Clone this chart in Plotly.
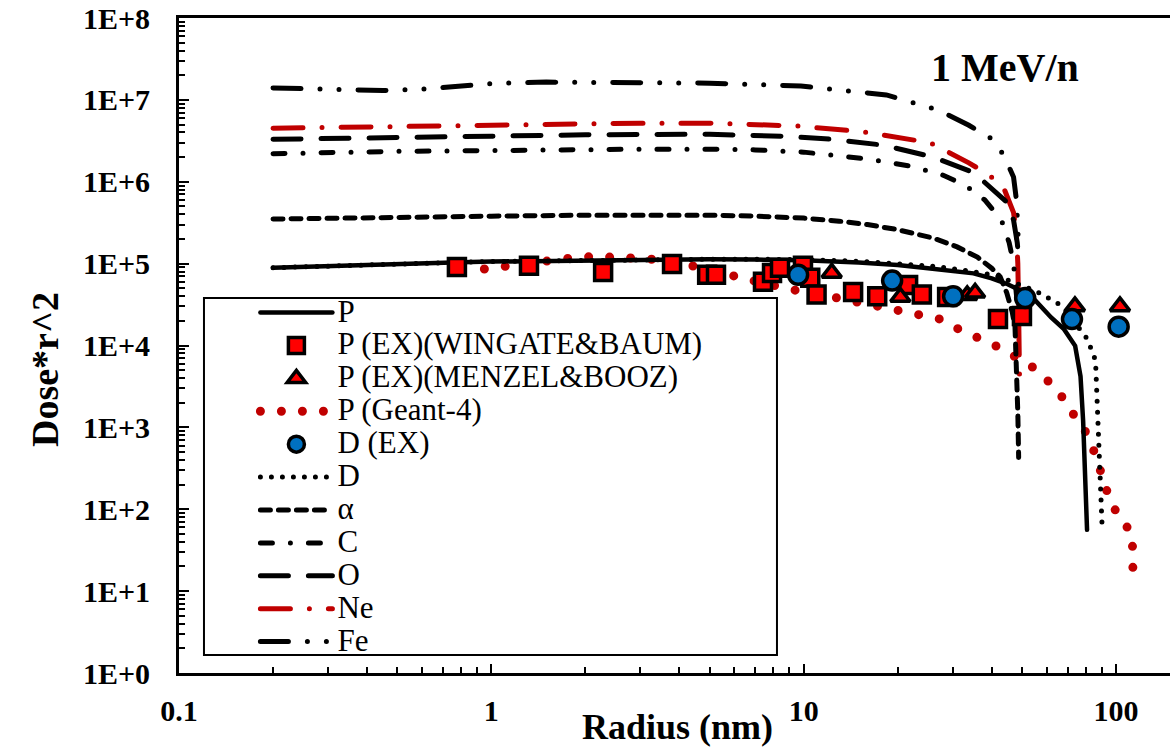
import plotly.graph_objects as go

# ---------------- data ----------------
p_r = [0.2, 0.3, 0.5, 0.8, 1.0, 2.0, 3.0, 5.0, 7.0, 10.0, 15.0, 20.0, 25.0, 30.0, 35.0, 40.0, 45.0, 50.0, 55.0, 62.0, 68.0, 74.0, 77.0, 78.5, 80.0, 80.8]
p_d = [8.9e4, 9.4e4, 1.0e5, 1.04e5, 1.06e5, 1.1e5, 1.12e5, 1.13e5, 1.12e5, 1.1e5, 1.03e5, 9.6e4, 8.8e4, 8.2e4, 7.6e4, 6.6e4, 5.6e4, 4.6e4, 3.6e4, 2.2e4, 1.6e4, 9.9e3, 4.2e3, 1.2e3, 2.5e2, 5.6e1]

d_r = [0.2, 0.3, 0.5, 0.8, 1, 2, 3, 5, 7, 10, 15, 20, 25, 30, 35, 40, 45, 50, 55, 60, 65, 70, 75, 81, 86, 87.5, 89, 90.2]
d_d = [8.9e4, 9.4e4, 1.0e5, 1.04e5, 1.06e5, 1.1e5, 1.12e5, 1.13e5, 1.13e5, 1.12e5, 1.07e5, 1.0e5, 9.4e4, 8.7e4, 8.0e4, 7.3e4, 6.3e4, 5.4e4, 4.7e4, 3.9e4, 3.3e4, 2.5e4, 1.8e4, 1.2e4, 6.6e3, 1.2e3, 2.5e2, 6.7e1]

a_r = [0.2, 0.3, 0.5, 1, 2, 3, 5, 7, 10, 13, 16, 20, 26, 31, 36, 40, 42.6, 44.7, 46.5, 47.5, 48.1, 48.5, 48.8]
a_d = [3.5e5, 3.6e5, 3.7e5, 3.8e5, 3.9e5, 3.95e5, 3.9e5, 3.8e5, 3.6e5, 3.3e5, 3.0e5, 2.6e5, 2.05e5, 1.6e5, 1.2e5, 8.8e4, 6.9e4, 4.4e4, 2.6e4, 1.7e4, 5e3, 1.5e3, 4.3e2]

c_r = [0.2, 0.3, 0.5, 1, 2, 3, 5, 7, 10, 16, 22, 28, 33, 38, 43, 45.5, 47, 48, 48.6]
c_d = [2.2e6, 2.3e6, 2.35e6, 2.4e6, 2.5e6, 2.5e6, 2.5e6, 2.45e6, 2.3e6, 1.9e6, 1.55e6, 1.2e6, 9e5, 6e5, 3.4e5, 1.8e5, 1.0e5, 5e4, 2.5e4]

o_r = [0.2, 0.3, 0.5, 1, 2, 3, 5, 8.6, 12.3, 18, 26, 35, 40.8, 45, 47, 48.3, 49]
o_d = [3.3e6, 3.4e6, 3.5e6, 3.6e6, 3.75e6, 3.8e6, 3.8e6, 3.6e6, 3.3e6, 2.8e6, 2.0e6, 1.3e6, 7.9e5, 5.5e5, 3.4e5, 1.8e5, 1.0e5]

ne_r = [0.2, 0.3, 0.5, 1, 2, 3, 5, 9.5, 15.3, 25.4, 33.8, 39.4, 44, 47, 48, 48.5, 48.8, 49.1]
ne_d = [4.5e6, 4.6e6, 4.8e6, 4.9e6, 5.1e6, 5.2e6, 5.2e6, 4.8e6, 4.1e6, 3.0e6, 1.7e6, 1.2e6, 7.9e5, 4.2e5, 2.3e5, 1.0e5, 2.5e4, 4.4e3]

fe_r = [0.2, 0.3, 0.45, 0.6, 0.8, 1.0, 1.5, 3, 5, 9.8, 18.4, 27, 33.8, 40.8, 44, 47, 48, 48.4, 48.8]
fe_d = [1.4e7, 1.35e7, 1.3e7, 1.35e7, 1.5e7, 1.58e7, 1.65e7, 1.65e7, 1.6e7, 1.48e7, 1.15e7, 7.5e6, 4.9e6, 3.2e6, 2.0e6, 1.14e6, 6e5, 3.1e5, 1.5e5]

g_r = [0.95, 1.15, 1.35, 1.6, 1.9, 2.2, 2.6, 3.1, 3.7, 4.4, 5.2, 6.2, 7.5, 9.2, 11, 12.6, 14.8, 17.2, 20.1, 23.4, 27.4, 31.2, 36.2, 41.9, 47.5, 54.7, 61.5, 68.2, 74, 80.8, 85.7, 90.2, 94.4, 100.8, 107, 112.7, 113.0, 113.3]
g_d = [8.6e4, 9.5e4, 1.05e5, 1.15e5, 1.2e5, 1.22e5, 1.2e5, 1.15e5, 1.08e5, 9.5e4, 8.2e4, 6.8e4, 5.7e4, 4.8e4, 4.3e4, 3.9e4, 3.4e4, 3.1e4, 2.7e4, 2.5e4, 2.1e4, 1.6e4, 1.27e4, 9.6e3, 7.3e3, 5.3e3, 3.5e3, 2.2e3, 1.34e3, 830, 475, 263, 150, 88, 65, 50, 33, 18]

wb_r = [0.776, 1.32, 2.28, 3.79, 4.91, 5.24, 7.41, 7.92, 8.40, 9.95, 10.5, 11.0, 14.4, 17.2, 21.6, 23.9, 28.8, 41.9, 50.0]
wb_d = [9.1e4, 9.4e4, 7.9e4, 9.9e4, 7.3e4, 7.3e4, 6.0e4, 7.7e4, 8.9e4, 9.4e4, 6.7e4, 4.2e4, 4.5e4, 4.0e4, 5.5e4, 4.2e4, 3.9e4, 2.1e4, 2.3e4]

mb_r = [12.3, 20.4, 33.4, 35.4, 73.9, 103.0]
mb_d = [7.7e4, 3.9e4, 4.1e4, 4.4e4, 3.0e4, 3.0e4]

dex_r = [9.6, 19.2, 30.1, 51.2, 72.3, 102.0]
dex_d = [7.3e4, 6.2e4, 4.0e4, 3.8e4, 2.1e4, 1.7e4]

x_tickvals = [0.1, 1, 10, 100]
x_ticktext = ["0.1", "1", "10", "100"]
y_tickvals = [1e0, 1e1, 1e2, 1e3, 1e4, 1e5, 1e6, 1e7, 1e8]
y_ticktext = ["1E+0", "1E+1", "1E+2", "1E+3", "1E+4", "1E+5", "1E+6", "1E+7", "1E+8"]

series_names = ["P", "P (EX)(WINGATE&BAUM)", "P (EX)(MENZEL&BOOZ)", "P (Geant-4)", "D (EX)",
                "D", "α", "C", "O", "Ne", "Fe"]

FONT = "Liberation Serif"
RED = "#FF0000"
DRED = "#C00000"
BLUE = "#0070C0"


def label(name):
    # larger legend text without changing the legend row spacing
    return '<span style="font-size:31px">' + name.replace("&", "&amp;") + "</span>"


fig = go.Figure()


def line_trace(x, y, idx, color, width, dash):
    fig.add_trace(go.Scatter(x=x, y=y, name=label(series_names[idx]), mode="lines",
                             line=dict(color=color, width=width, dash=dash),
                             legendrank=idx + 1))


line_trace(g_r, g_d, 3, DRED, 9, "0px,21px")
line_trace(fe_r, fe_d, 10, "black", 5, "28px,19px,0px,19px,0px,19px")
line_trace(ne_r, ne_d, 9, DRED, 5, "30px,19px,0px,19px")
line_trace(o_r, o_d, 8, "black", 5, "28px,20px")
line_trace(c_r, c_d, 7, "black", 5, "12px,18px,0px,18px")
line_trace(a_r, a_d, 6, "black", 5, "10px,8px")
line_trace(d_r, d_d, 5, "black", 5, "0px,11px")
line_trace(p_r, p_d, 0, "black", 4.5, "solid")

fig.add_trace(go.Scatter(x=wb_r, y=wb_d, name=label(series_names[1]), mode="markers",
                         marker=dict(symbol="square", size=17, color=RED,
                                     line=dict(color="black", width=3.5)),
                         legendrank=2))
fig.add_trace(go.Scatter(x=mb_r, y=mb_d, name=label(series_names[2]), mode="markers",
                         marker=dict(symbol="triangle-up", size=17, color=RED,
                                     line=dict(color="black", width=3.5)),
                         legendrank=3))
fig.add_trace(go.Scatter(x=dex_r, y=dex_d, name=label(series_names[4]), mode="markers",
                         marker=dict(symbol="circle", size=19, color=BLUE,
                                     line=dict(color="black", width=3.5)),
                         legendrank=5))

minor_x = [m * 10.0 ** k for k in range(-1, 3) for m in range(2, 10)]
minor_y = [m * 10.0 ** k for k in range(0, 8) for m in range(2, 10)]

tickfont = dict(family=FONT, size=30, color="black", weight="bold")

fig.update_layout(
    width=1170, height=750,
    margin=dict(l=179, r=0, t=18, b=77),
    paper_bgcolor="white", plot_bgcolor="white",
    showlegend=True,
    legend=dict(x=0.0771, y=0.583, xanchor="left", yanchor="top",
                bgcolor="rgba(0,0,0,0)", borderwidth=0,
                itemwidth=72, traceorder="normal",
                font=dict(family=FONT, size=23, color="black")),
    xaxis=dict(type="log", range=[-1, 2.173], showgrid=False, zeroline=False,
               showline=True, linecolor="black", linewidth=3, mirror=True,
               ticks="inside", ticklen=9, tickwidth=2, tickcolor="black",
               tickmode="array", tickvals=x_tickvals, ticktext=x_ticktext,
               tickfont=tickfont, ticklabelstandoff=9,
               minor=dict(tickmode="array", tickvals=minor_x, ticks="inside",
                          ticklen=6, tickwidth=1.5, tickcolor="black")),
    yaxis=dict(type="log", range=[0, 8], showgrid=False, zeroline=False,
               showline=True, linecolor="black", linewidth=3,
               ticks="inside", ticklen=10, tickwidth=2, tickcolor="black",
               tickmode="array", tickvals=y_tickvals, ticktext=y_ticktext,
               tickfont=tickfont, ticklabelstandoff=20,
               minor=dict(tickmode="array", tickvals=minor_y, ticks="inside",
                          ticklen=6, tickwidth=1.5, tickcolor="black")),
    shapes=[dict(type="rect", xref="paper", yref="paper",
                 x0=0.0252, x1=0.6034, y0=0.0275, y1=0.5725,
                 line=dict(color="black", width=2), fillcolor="white", layer="above")],
    annotations=[
        dict(text="1 MeV/n", xref="paper", yref="paper", x=0.8335, y=0.9237,
             xanchor="center", yanchor="middle", showarrow=False,
             font=dict(family=FONT, size=40, color="black", weight="bold")),
        dict(text="Dose*r^2", xref="paper", yref="paper", x=-0.1352, y=0.4626,
             xanchor="center", yanchor="middle", textangle=-90, showarrow=False,
             font=dict(family=FONT, size=38, color="black", weight="bold")),
        dict(text="Radius (nm)", xref="paper", yref="paper", x=0.503, y=-0.0824,
             xanchor="center", yanchor="middle", showarrow=False,
             font=dict(family=FONT, size=36, color="black", weight="bold")),
    ],
)

post = ("var s=document.createElement('style');"
        "s.textContent='.js-line{stroke-linecap:round;}';"
        "document.head.appendChild(s);")
fig.write_html("out.html", post_script=post)
